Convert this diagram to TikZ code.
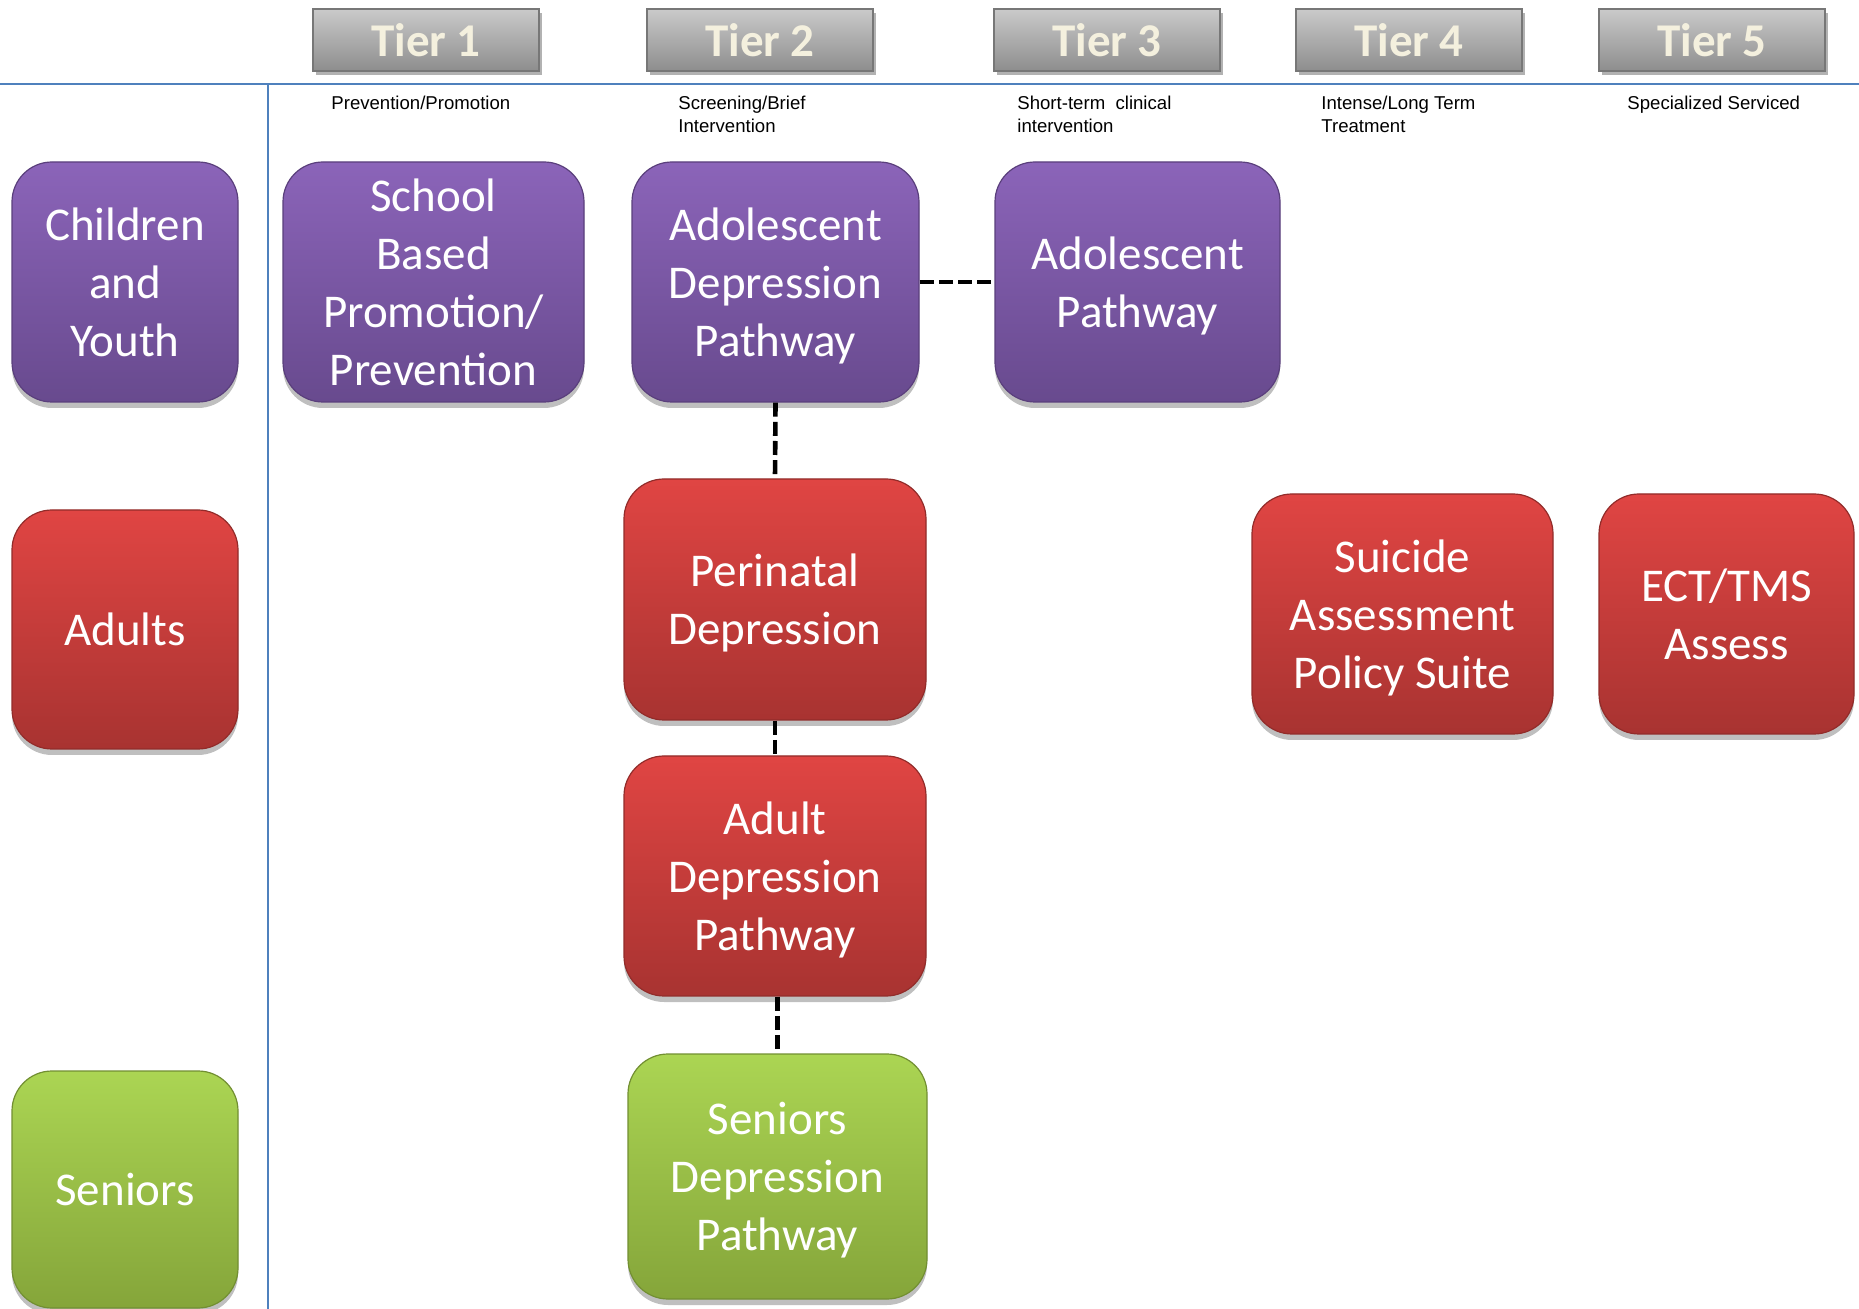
\documentclass[tikz,border=0pt]{standalone}
\usepackage{fontspec}
\setmainfont{Carlito}
\newfontfamily\arialf{Liberation Sans}
\usetikzlibrary{shadows}
\definecolor{purT}{HTML}{8B64B9}
\definecolor{purB}{HTML}{684A8E}
\definecolor{purD}{HTML}{5A3F7C}
\definecolor{redT}{HTML}{E04543}
\definecolor{redB}{HTML}{A83331}
\definecolor{redD}{HTML}{922C2A}
\definecolor{grnT}{HTML}{ABD553}
\definecolor{grnB}{HTML}{85A53A}
\definecolor{grnD}{HTML}{728F32}
\definecolor{tierT}{HTML}{CACACA}
\definecolor{tierB}{HTML}{8D8D8D}
\definecolor{tierD}{HTML}{777777}
\definecolor{tierTxt}{HTML}{F4F0DE}
\definecolor{blueL}{HTML}{4F81BD}
\begin{document}
\begin{tikzpicture}[x=0.5pt,y=-0.5pt,
  box/.style={rounded corners=20pt, align=center, text=white, inner sep=0pt,
    font=\fontsize{23.5}{29}\selectfont, line width=0.6pt, text depth=0pt,
    drop shadow={shadow xshift=0pt, shadow yshift=-3pt, opacity=0.25, fill=black}},
  purplebox/.style={box, top color=purT, bottom color=purB, draw=purD},
  redbox/.style={box, top color=redT, bottom color=redB, draw=redD},
  greenbox/.style={box, top color=grnT, bottom color=grnB, draw=grnD},
  tierbox/.style={minimum width=113pt, minimum height=31pt, inner sep=0pt,
    top color=tierT, bottom color=tierB, draw=tierD, line width=0.8pt,
    text=tierTxt, font=\bfseries\fontsize{23.5}{28}\selectfont,
    drop shadow={shadow xshift=1.5pt, shadow yshift=-2pt, opacity=0.3, fill=black}},
  subtxt/.style={anchor=north west, align=left, inner sep=0pt,
    font=\arialf\fontsize{9.3}{11.25}\selectfont},
  link/.style={line width=2.3pt, dash pattern=on 7pt off 2.6pt}
]
\useasboundingbox[fill=white] (0,0) rectangle (1859,1309);

% grid lines
\draw[blueL, line width=1pt] (0,84) -- (1859,84);
\draw[blueL, line width=1pt] (268,84) -- (268,1309);

% tier headers
\node[tierbox] (t1) at (426,40) {Tier 1};
\node[tierbox] (t2) at (760,40) {Tier 2};
\node[tierbox] (t3) at (1107,40) {Tier 3};
\node[tierbox] (t4) at (1409,40) {Tier 4};
\node[tierbox] (t5) at (1712,40) {Tier 5};

\node[subtxt] (s1) at (331,96) {Prevention/Promotion};
\node[subtxt] (s2) at (678,96) {Screening/Brief\\Intervention};
\node[subtxt] (s3) at (1017,96) {Short-term\ \ clinical\\intervention};
\node[subtxt] (s4) at (1321,96) {Intense/Long Term\\Treatment};
\node[subtxt] (s5) at (1627,96) {Specialized Serviced};

% row headers
\node[purplebox, minimum width=113pt, minimum height=120pt] (cy) at (125,282) {Children\\and\\Youth};
\node[redbox, minimum width=113pt, minimum height=119.5pt] (ad) at (125,629.5) {Adults};
\node[greenbox, minimum width=113pt, minimum height=118.5pt] (sn) at (125,1189.5) {Seniors};

% content boxes
\node[purplebox, minimum width=150.5pt, minimum height=120pt] (sbp) at (433.5,282) {School\\Based\\Promotion/\\Prevention};
\node[purplebox, minimum width=143.5pt, minimum height=120pt] (adp) at (775.5,282) {Adolescent\\Depression\\Pathway};
\node[purplebox, minimum width=142.5pt, minimum height=120pt] (ap) at (1137.5,282) {Adolescent\\Pathway};
\node[redbox, minimum width=151pt, minimum height=120.5pt] (peri) at (775,599.5) {Perinatal\\Depression};
\node[redbox, minimum width=151pt, minimum height=120pt] (adult) at (775,876) {Adult\\Depression\\Pathway};
\node[redbox, minimum width=150.5pt, minimum height=120pt] (sui) at (1402.5,614) {Suicide\\Assessment\\Policy Suite};
\node[redbox, minimum width=127.5pt, minimum height=120pt] (ect) at (1726.5,614) {ECT/TMS\\Assess};
\node[greenbox, minimum width=149.5pt, minimum height=122.5pt] (sdp) at (777.5,1176.5) {Seniors\\Depression\\Pathway};

% connectors
\draw[link] (adp.east) -- (ap.west);
\draw[link] (adp.south) -- (peri.north);
\draw[link] (peri.south) -- (adult.north);
\draw[link] (adult.south -| sdp.north) -- (sdp.north);
\end{tikzpicture}
\end{document}
